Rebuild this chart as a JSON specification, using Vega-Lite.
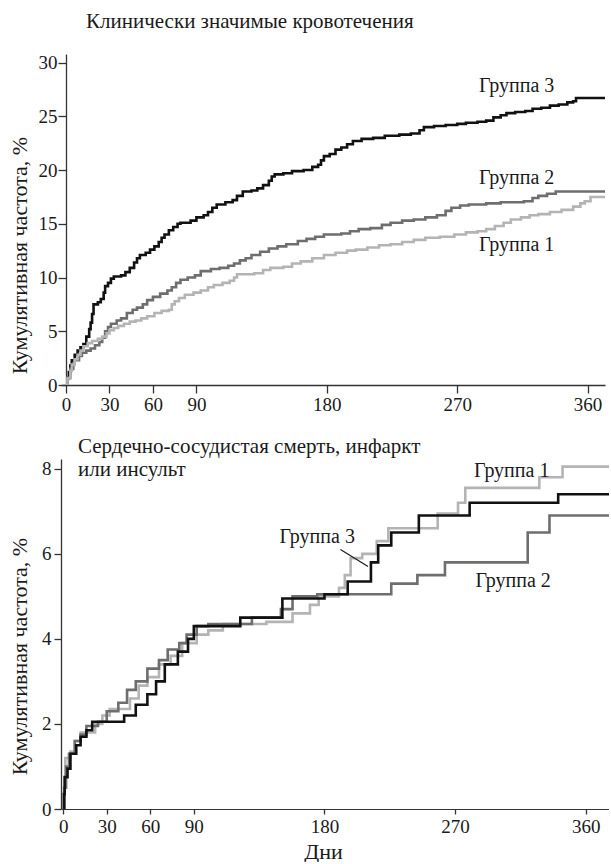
{
  "$schema": "https://vega.github.io/schema/vega-lite/v6.json",
  "background": "white",
  "padding": {"left": 8, "top": 10, "right": 0, "bottom": 0},
  "spacing": 22,
  "config": {
    "font": "'Liberation Serif', 'Times New Roman', 'DejaVu Serif', serif",
    "view": {"stroke": null},
    "axis": {
      "grid": false,
      "domainColor": "#333333",
      "tickColor": "#333333",
      "labelColor": "#1a1a1a",
      "titleColor": "#1a1a1a",
      "labelFont": "'Liberation Serif', 'Times New Roman', 'DejaVu Serif', serif",
      "titleFont": "'Liberation Serif', 'Times New Roman', 'DejaVu Serif', serif",
      "labelFontSize": 19,
      "titleFontSize": 22,
      "titleFontWeight": "normal",
      "domainWidth": 1.3,
      "tickWidth": 1.3
    },
    "title": {"font": "'Liberation Serif', 'Times New Roman', 'DejaVu Serif', serif", "fontWeight": "normal", "color": "#1a1a1a", "fontSize": 21},
    "text": {"font": "'Liberation Serif', 'Times New Roman', 'DejaVu Serif', serif"}
  },
  "datasets": {
    "top": [
      {"g": "Группа 3", "d": 0, "v": 0}, {"g": "Группа 3", "d": 1, "v": 0.6}, {"g": "Группа 3", "d": 2, "v": 1.2}, {"g": "Группа 3", "d": 3, "v": 1.8}, {"g": "Группа 3", "d": 4, "v": 2.3}, {"g": "Группа 3", "d": 6, "v": 2.8}, {"g": "Группа 3", "d": 8, "v": 3.2}, {"g": "Группа 3", "d": 10, "v": 3.5}, {"g": "Группа 3", "d": 12, "v": 3.8}, {"g": "Группа 3", "d": 14, "v": 4.5}, {"g": "Группа 3", "d": 16, "v": 5.2}, {"g": "Группа 3", "d": 17, "v": 5.8}, {"g": "Группа 3", "d": 18, "v": 6.6}, {"g": "Группа 3", "d": 19, "v": 7.5}, {"g": "Группа 3", "d": 22, "v": 7.7}, {"g": "Группа 3", "d": 24, "v": 8.0}, {"g": "Группа 3", "d": 26, "v": 8.6}, {"g": "Группа 3", "d": 27, "v": 9.2}, {"g": "Группа 3", "d": 29, "v": 9.5}, {"g": "Группа 3", "d": 31, "v": 9.9}, {"g": "Группа 3", "d": 33, "v": 10.1}, {"g": "Группа 3", "d": 38, "v": 10.2}, {"g": "Группа 3", "d": 41, "v": 10.5}, {"g": "Группа 3", "d": 44, "v": 10.9}, {"g": "Группа 3", "d": 47, "v": 11.4}, {"g": "Группа 3", "d": 49, "v": 11.8}, {"g": "Группа 3", "d": 51, "v": 12.1}, {"g": "Группа 3", "d": 55, "v": 12.3}, {"g": "Группа 3", "d": 58, "v": 12.6}, {"g": "Группа 3", "d": 61, "v": 12.9}, {"g": "Группа 3", "d": 64, "v": 13.3}, {"g": "Группа 3", "d": 66, "v": 13.7}, {"g": "Группа 3", "d": 68, "v": 14.0}, {"g": "Группа 3", "d": 71, "v": 14.4}, {"g": "Группа 3", "d": 74, "v": 14.7}, {"g": "Группа 3", "d": 77, "v": 15.0}, {"g": "Группа 3", "d": 79, "v": 15.1}, {"g": "Группа 3", "d": 86, "v": 15.3}, {"g": "Группа 3", "d": 90, "v": 15.6}, {"g": "Группа 3", "d": 95, "v": 15.8}, {"g": "Группа 3", "d": 98, "v": 16.1}, {"g": "Группа 3", "d": 101, "v": 16.5}, {"g": "Группа 3", "d": 104, "v": 16.8}, {"g": "Группа 3", "d": 110, "v": 17.0}, {"g": "Группа 3", "d": 115, "v": 17.2}, {"g": "Группа 3", "d": 118, "v": 17.6}, {"g": "Группа 3", "d": 122, "v": 18.0}, {"g": "Группа 3", "d": 128, "v": 18.1}, {"g": "Группа 3", "d": 132, "v": 18.3}, {"g": "Группа 3", "d": 136, "v": 18.6}, {"g": "Группа 3", "d": 140, "v": 19.0}, {"g": "Группа 3", "d": 142, "v": 19.4}, {"g": "Группа 3", "d": 144, "v": 19.6}, {"g": "Группа 3", "d": 150, "v": 19.7}, {"g": "Группа 3", "d": 156, "v": 19.9}, {"g": "Группа 3", "d": 164, "v": 20.0}, {"g": "Группа 3", "d": 170, "v": 20.3}, {"g": "Группа 3", "d": 174, "v": 20.5}, {"g": "Группа 3", "d": 176, "v": 20.9}, {"g": "Группа 3", "d": 178, "v": 21.3}, {"g": "Группа 3", "d": 182, "v": 21.5}, {"g": "Группа 3", "d": 186, "v": 21.9}, {"g": "Группа 3", "d": 190, "v": 22.1}, {"g": "Группа 3", "d": 194, "v": 22.4}, {"g": "Группа 3", "d": 198, "v": 22.7}, {"g": "Группа 3", "d": 204, "v": 22.9}, {"g": "Группа 3", "d": 212, "v": 23.0}, {"g": "Группа 3", "d": 220, "v": 23.2}, {"g": "Группа 3", "d": 230, "v": 23.3}, {"g": "Группа 3", "d": 238, "v": 23.4}, {"g": "Группа 3", "d": 244, "v": 23.7}, {"g": "Группа 3", "d": 247, "v": 24.0}, {"g": "Группа 3", "d": 254, "v": 24.1}, {"g": "Группа 3", "d": 262, "v": 24.2}, {"g": "Группа 3", "d": 270, "v": 24.3}, {"g": "Группа 3", "d": 276, "v": 24.4}, {"g": "Группа 3", "d": 284, "v": 24.5}, {"g": "Группа 3", "d": 290, "v": 24.6}, {"g": "Группа 3", "d": 295, "v": 24.9}, {"g": "Группа 3", "d": 300, "v": 25.1}, {"g": "Группа 3", "d": 304, "v": 25.3}, {"g": "Группа 3", "d": 310, "v": 25.4}, {"g": "Группа 3", "d": 317, "v": 25.5}, {"g": "Группа 3", "d": 322, "v": 25.7}, {"g": "Группа 3", "d": 328, "v": 25.8}, {"g": "Группа 3", "d": 334, "v": 26.0}, {"g": "Группа 3", "d": 340, "v": 26.1}, {"g": "Группа 3", "d": 346, "v": 26.3}, {"g": "Группа 3", "d": 350, "v": 26.4}, {"g": "Группа 3", "d": 352, "v": 26.7}, {"g": "Группа 3", "d": 372, "v": 26.7},
      {"g": "Группа 2", "d": 0, "v": 0}, {"g": "Группа 2", "d": 1, "v": 0.7}, {"g": "Группа 2", "d": 3, "v": 1.5}, {"g": "Группа 2", "d": 5, "v": 2.0}, {"g": "Группа 2", "d": 6, "v": 2.3}, {"g": "Группа 2", "d": 9, "v": 2.7}, {"g": "Группа 2", "d": 11, "v": 3.0}, {"g": "Группа 2", "d": 14, "v": 3.2}, {"g": "Группа 2", "d": 17, "v": 3.4}, {"g": "Группа 2", "d": 20, "v": 3.7}, {"g": "Группа 2", "d": 23, "v": 4.0}, {"g": "Группа 2", "d": 25, "v": 4.4}, {"g": "Группа 2", "d": 27, "v": 5.0}, {"g": "Группа 2", "d": 29, "v": 5.4}, {"g": "Группа 2", "d": 31, "v": 5.7}, {"g": "Группа 2", "d": 35, "v": 6.0}, {"g": "Группа 2", "d": 38, "v": 6.2}, {"g": "Группа 2", "d": 42, "v": 6.7}, {"g": "Группа 2", "d": 46, "v": 7.0}, {"g": "Группа 2", "d": 49, "v": 7.2}, {"g": "Группа 2", "d": 53, "v": 7.5}, {"g": "Группа 2", "d": 56, "v": 7.9}, {"g": "Группа 2", "d": 60, "v": 8.2}, {"g": "Группа 2", "d": 65, "v": 8.5}, {"g": "Группа 2", "d": 70, "v": 8.8}, {"g": "Группа 2", "d": 73, "v": 9.1}, {"g": "Группа 2", "d": 76, "v": 9.5}, {"g": "Группа 2", "d": 79, "v": 9.8}, {"g": "Группа 2", "d": 84, "v": 10.0}, {"g": "Группа 2", "d": 89, "v": 10.2}, {"g": "Группа 2", "d": 93, "v": 10.6}, {"g": "Группа 2", "d": 100, "v": 10.8}, {"g": "Группа 2", "d": 106, "v": 10.9}, {"g": "Группа 2", "d": 112, "v": 11.1}, {"g": "Группа 2", "d": 116, "v": 11.3}, {"g": "Группа 2", "d": 120, "v": 11.6}, {"g": "Группа 2", "d": 124, "v": 11.8}, {"g": "Группа 2", "d": 128, "v": 12.1}, {"g": "Группа 2", "d": 134, "v": 12.4}, {"g": "Группа 2", "d": 140, "v": 12.7}, {"g": "Группа 2", "d": 146, "v": 12.9}, {"g": "Группа 2", "d": 152, "v": 13.1}, {"g": "Группа 2", "d": 160, "v": 13.4}, {"g": "Группа 2", "d": 166, "v": 13.6}, {"g": "Группа 2", "d": 172, "v": 13.8}, {"g": "Группа 2", "d": 178, "v": 14.0}, {"g": "Группа 2", "d": 190, "v": 14.1}, {"g": "Группа 2", "d": 196, "v": 14.3}, {"g": "Группа 2", "d": 202, "v": 14.5}, {"g": "Группа 2", "d": 210, "v": 14.6}, {"g": "Группа 2", "d": 218, "v": 14.9}, {"g": "Группа 2", "d": 224, "v": 15.1}, {"g": "Группа 2", "d": 232, "v": 15.3}, {"g": "Группа 2", "d": 240, "v": 15.4}, {"g": "Группа 2", "d": 248, "v": 15.6}, {"g": "Группа 2", "d": 256, "v": 15.8}, {"g": "Группа 2", "d": 262, "v": 16.2}, {"g": "Группа 2", "d": 266, "v": 16.5}, {"g": "Группа 2", "d": 272, "v": 16.7}, {"g": "Группа 2", "d": 278, "v": 16.8}, {"g": "Группа 2", "d": 290, "v": 16.9}, {"g": "Группа 2", "d": 300, "v": 17.0}, {"g": "Группа 2", "d": 316, "v": 17.1}, {"g": "Группа 2", "d": 322, "v": 17.4}, {"g": "Группа 2", "d": 326, "v": 17.6}, {"g": "Группа 2", "d": 332, "v": 17.8}, {"g": "Группа 2", "d": 338, "v": 18.0}, {"g": "Группа 2", "d": 372, "v": 18.0},
      {"g": "Группа 1", "d": 0, "v": 0}, {"g": "Группа 1", "d": 1, "v": 0.6}, {"g": "Группа 1", "d": 3, "v": 1.3}, {"g": "Группа 1", "d": 4, "v": 1.9}, {"g": "Группа 1", "d": 6, "v": 2.4}, {"g": "Группа 1", "d": 8, "v": 2.8}, {"g": "Группа 1", "d": 10, "v": 3.2}, {"g": "Группа 1", "d": 12, "v": 3.6}, {"g": "Группа 1", "d": 15, "v": 3.9}, {"g": "Группа 1", "d": 18, "v": 4.1}, {"g": "Группа 1", "d": 22, "v": 4.3}, {"g": "Группа 1", "d": 25, "v": 4.5}, {"g": "Группа 1", "d": 28, "v": 4.8}, {"g": "Группа 1", "d": 30, "v": 5.1}, {"g": "Группа 1", "d": 33, "v": 5.3}, {"g": "Группа 1", "d": 36, "v": 5.5}, {"g": "Группа 1", "d": 40, "v": 5.7}, {"g": "Группа 1", "d": 44, "v": 5.9}, {"g": "Группа 1", "d": 48, "v": 6.0}, {"g": "Группа 1", "d": 52, "v": 6.2}, {"g": "Группа 1", "d": 56, "v": 6.4}, {"g": "Группа 1", "d": 61, "v": 6.7}, {"g": "Группа 1", "d": 66, "v": 6.9}, {"g": "Группа 1", "d": 71, "v": 7.0}, {"g": "Группа 1", "d": 73, "v": 7.5}, {"g": "Группа 1", "d": 75, "v": 7.8}, {"g": "Группа 1", "d": 78, "v": 8.1}, {"g": "Группа 1", "d": 82, "v": 8.4}, {"g": "Группа 1", "d": 88, "v": 8.6}, {"g": "Группа 1", "d": 93, "v": 8.8}, {"g": "Группа 1", "d": 98, "v": 9.1}, {"g": "Группа 1", "d": 102, "v": 9.3}, {"g": "Группа 1", "d": 108, "v": 9.5}, {"g": "Группа 1", "d": 113, "v": 9.7}, {"g": "Группа 1", "d": 116, "v": 10.0}, {"g": "Группа 1", "d": 118, "v": 10.3}, {"g": "Группа 1", "d": 130, "v": 10.4}, {"g": "Группа 1", "d": 136, "v": 10.7}, {"g": "Группа 1", "d": 141, "v": 10.9}, {"g": "Группа 1", "d": 150, "v": 11.0}, {"g": "Группа 1", "d": 156, "v": 11.3}, {"g": "Группа 1", "d": 162, "v": 11.5}, {"g": "Группа 1", "d": 170, "v": 11.8}, {"g": "Группа 1", "d": 178, "v": 12.1}, {"g": "Группа 1", "d": 186, "v": 12.3}, {"g": "Группа 1", "d": 194, "v": 12.5}, {"g": "Группа 1", "d": 200, "v": 12.6}, {"g": "Группа 1", "d": 208, "v": 12.8}, {"g": "Группа 1", "d": 216, "v": 13.0}, {"g": "Группа 1", "d": 224, "v": 13.1}, {"g": "Группа 1", "d": 232, "v": 13.3}, {"g": "Группа 1", "d": 240, "v": 13.5}, {"g": "Группа 1", "d": 248, "v": 13.7}, {"g": "Группа 1", "d": 258, "v": 13.8}, {"g": "Группа 1", "d": 268, "v": 14.0}, {"g": "Группа 1", "d": 276, "v": 14.2}, {"g": "Группа 1", "d": 284, "v": 14.3}, {"g": "Группа 1", "d": 290, "v": 14.5}, {"g": "Группа 1", "d": 296, "v": 14.8}, {"g": "Группа 1", "d": 302, "v": 15.1}, {"g": "Группа 1", "d": 307, "v": 15.4}, {"g": "Группа 1", "d": 314, "v": 15.6}, {"g": "Группа 1", "d": 320, "v": 15.8}, {"g": "Группа 1", "d": 326, "v": 15.9}, {"g": "Группа 1", "d": 334, "v": 16.1}, {"g": "Группа 1", "d": 342, "v": 16.3}, {"g": "Группа 1", "d": 350, "v": 16.6}, {"g": "Группа 1", "d": 355, "v": 16.9}, {"g": "Группа 1", "d": 358, "v": 17.1}, {"g": "Группа 1", "d": 362, "v": 17.5}, {"g": "Группа 1", "d": 372, "v": 17.5}
    ],
    "bot": [
      {"g": "Группа 1", "d": 0, "v": 0}, {"g": "Группа 1", "d": 0.5, "v": 0.5}, {"g": "Группа 1", "d": 1.5, "v": 1.2}, {"g": "Группа 1", "d": 5, "v": 1.35}, {"g": "Группа 1", "d": 8, "v": 1.6}, {"g": "Группа 1", "d": 12, "v": 1.8}, {"g": "Группа 1", "d": 22, "v": 2.0}, {"g": "Группа 1", "d": 27, "v": 2.2}, {"g": "Группа 1", "d": 32, "v": 2.35}, {"g": "Группа 1", "d": 46, "v": 2.6}, {"g": "Группа 1", "d": 52, "v": 2.9}, {"g": "Группа 1", "d": 58, "v": 3.1}, {"g": "Группа 1", "d": 66, "v": 3.4}, {"g": "Группа 1", "d": 74, "v": 3.6}, {"g": "Группа 1", "d": 82, "v": 3.9}, {"g": "Группа 1", "d": 92, "v": 4.1}, {"g": "Группа 1", "d": 100, "v": 4.2}, {"g": "Группа 1", "d": 110, "v": 4.35}, {"g": "Группа 1", "d": 140, "v": 4.4}, {"g": "Группа 1", "d": 158, "v": 4.6}, {"g": "Группа 1", "d": 170, "v": 4.8}, {"g": "Группа 1", "d": 176, "v": 5.0}, {"g": "Группа 1", "d": 190, "v": 5.2}, {"g": "Группа 1", "d": 194, "v": 5.5}, {"g": "Группа 1", "d": 198, "v": 5.9}, {"g": "Группа 1", "d": 206, "v": 6.0}, {"g": "Группа 1", "d": 216, "v": 6.3}, {"g": "Группа 1", "d": 224, "v": 6.6}, {"g": "Группа 1", "d": 258, "v": 6.95}, {"g": "Группа 1", "d": 272, "v": 7.2}, {"g": "Группа 1", "d": 277, "v": 7.55}, {"g": "Группа 1", "d": 328, "v": 7.8}, {"g": "Группа 1", "d": 344, "v": 8.05}, {"g": "Группа 1", "d": 376, "v": 8.05},
      {"g": "Группа 2", "d": 0, "v": 0}, {"g": "Группа 2", "d": 1, "v": 0.5}, {"g": "Группа 2", "d": 2, "v": 1.0}, {"g": "Группа 2", "d": 4, "v": 1.3}, {"g": "Группа 2", "d": 8, "v": 1.6}, {"g": "Группа 2", "d": 12, "v": 1.75}, {"g": "Группа 2", "d": 16, "v": 1.95}, {"g": "Группа 2", "d": 24, "v": 2.05}, {"g": "Группа 2", "d": 30, "v": 2.3}, {"g": "Группа 2", "d": 38, "v": 2.5}, {"g": "Группа 2", "d": 44, "v": 2.8}, {"g": "Группа 2", "d": 50, "v": 3.0}, {"g": "Группа 2", "d": 58, "v": 3.3}, {"g": "Группа 2", "d": 66, "v": 3.5}, {"g": "Группа 2", "d": 72, "v": 3.75}, {"g": "Группа 2", "d": 80, "v": 3.9}, {"g": "Группа 2", "d": 85, "v": 4.1}, {"g": "Группа 2", "d": 92, "v": 4.3}, {"g": "Группа 2", "d": 100, "v": 4.35}, {"g": "Группа 2", "d": 130, "v": 4.5}, {"g": "Группа 2", "d": 150, "v": 4.7}, {"g": "Группа 2", "d": 158, "v": 5.0}, {"g": "Группа 2", "d": 175, "v": 5.05}, {"g": "Группа 2", "d": 226, "v": 5.3}, {"g": "Группа 2", "d": 244, "v": 5.5}, {"g": "Группа 2", "d": 263, "v": 5.8}, {"g": "Группа 2", "d": 320, "v": 6.5}, {"g": "Группа 2", "d": 335, "v": 6.9}, {"g": "Группа 2", "d": 376, "v": 6.9},
      {"g": "Группа 3", "d": 0, "v": 0}, {"g": "Группа 3", "d": 0.5, "v": 0.35}, {"g": "Группа 3", "d": 1, "v": 0.75}, {"g": "Группа 3", "d": 3, "v": 0.95}, {"g": "Группа 3", "d": 5, "v": 1.3}, {"g": "Группа 3", "d": 9, "v": 1.5}, {"g": "Группа 3", "d": 12, "v": 1.7}, {"g": "Группа 3", "d": 16, "v": 1.85}, {"g": "Группа 3", "d": 20, "v": 2.05}, {"g": "Группа 3", "d": 42, "v": 2.2}, {"g": "Группа 3", "d": 50, "v": 2.45}, {"g": "Группа 3", "d": 58, "v": 2.7}, {"g": "Группа 3", "d": 64, "v": 3.0}, {"g": "Группа 3", "d": 70, "v": 3.4}, {"g": "Группа 3", "d": 79, "v": 3.7}, {"g": "Группа 3", "d": 86, "v": 4.0}, {"g": "Группа 3", "d": 90, "v": 4.3}, {"g": "Группа 3", "d": 122, "v": 4.5}, {"g": "Группа 3", "d": 151, "v": 4.95}, {"g": "Группа 3", "d": 180, "v": 5.05}, {"g": "Группа 3", "d": 196, "v": 5.35}, {"g": "Группа 3", "d": 212, "v": 5.8}, {"g": "Группа 3", "d": 217, "v": 6.2}, {"g": "Группа 3", "d": 226, "v": 6.5}, {"g": "Группа 3", "d": 245, "v": 6.9}, {"g": "Группа 3", "d": 280, "v": 7.2}, {"g": "Группа 3", "d": 341, "v": 7.4}, {"g": "Группа 3", "d": 376, "v": 7.4}
    ],
    "toplab": [
      {"t": "Группа 3", "d": 311, "v": 27.8},
      {"t": "Группа 2", "d": 311, "v": 19.3},
      {"t": "Группа 1", "d": 311, "v": 13.0}
    ],
    "botlab": [
      {"t": "Группа 1", "d": 309, "v": 7.95},
      {"t": "Группа 3", "d": 175, "v": 6.4},
      {"t": "Группа 2", "d": 310, "v": 5.35}
    ],
    "leader": [
      {"d": 191, "v": 6.1, "d2": 210, "v2": 5.7}
    ]
  },
  "vconcat": [
    {
      "width": 544,
      "height": 331,
      "title": {"text": "Клинически значимые кровотечения", "anchor": "start", "frame": "group", "dx": 25, "offset": 22},
      "layer": [
        {
          "data": {"name": "top"},
          "mark": {"type": "line", "interpolate": "step-after", "strokeWidth": 2.6, "clip": true},
          "encoding": {
            "x": {"field": "d", "type": "quantitative", "scale": {"domain": [-3.45, 372], "nice": false, "zero": false},
                  "axis": {"values": [0, 30, 60, 90, 180, 270, 360], "title": null, "tickSize": 8, "labelPadding": 2}},
            "y": {"field": "v", "type": "quantitative", "scale": {"domain": [0, 30.8], "nice": false},
                  "axis": {"values": [0, 5, 10, 15, 20, 25, 30], "title": "Кумулятивная частота, %", "offset": -5, "tickSize": 8, "labelPadding": 1, "titleAngle": -90, "titleX": -40, "titleY": 201, "titleBaseline": "alphabetic", "titleAlign": "center"}},
            "color": {"field": "g", "type": "nominal", "scale": {"domain": ["Группа 1", "Группа 2", "Группа 3"], "range": ["#b4b4b4", "#6e6e6e", "#111111"]}, "legend": null}
          }
        },
        {
          "data": {"name": "toplab"},
          "mark": {"type": "text", "fontSize": 20, "color": "#1a1a1a", "align": "center", "baseline": "middle"},
          "encoding": {
            "x": {"field": "d", "type": "quantitative"},
            "y": {"field": "v", "type": "quantitative"},
            "text": {"field": "t"}
          }
        }
      ]
    },
    {
      "width": 548,
      "height": 350,
      "title": {"text": ["Сердечно-сосудистая смерть, инфаркт", "или инсульт"], "anchor": "start", "frame": "group", "dx": 17, "offset": -21, "lineHeight": 23},
      "layer": [
        {
          "mark": {"type": "rule", "strokeWidth": 3.5, "color": "#4d4d4d"},
          "encoding": {
            "x": {"datum": -18, "type": "quantitative"},
            "x2": {"datum": 363.5},
            "y": {"datum": 0, "type": "quantitative"}
          }
        },
        {
          "data": {"name": "bot"},
          "mark": {"type": "line", "interpolate": "step-after", "strokeWidth": 2.6, "clip": true},
          "encoding": {
            "x": {"field": "d", "type": "quantitative", "scale": {"domain": [-1.5, 376], "nice": false, "zero": false},
                  "axis": {"values": [0, 30, 60, 90, 180, 270, 360], "title": "Дни", "tickSize": 5, "labelPadding": 3, "titleX": 262, "titleY": 49, "titleBaseline": "alphabetic", "titleAlign": "center", "domainWidth": 1}},
            "y": {"field": "v", "type": "quantitative", "scale": {"domain": [0, 8.23], "nice": false},
                  "axis": {"values": [0, 2, 4, 6, 8], "title": "Кумулятивная частота, %", "tickSize": 7, "labelPadding": 3, "titleAngle": -90, "titleX": -35, "titleY": 197, "titleBaseline": "alphabetic", "titleAlign": "center"}},
            "color": {"field": "g", "type": "nominal", "scale": {"domain": ["Группа 1", "Группа 2", "Группа 3"], "range": ["#b4b4b4", "#6e6e6e", "#111111"]}, "legend": null}
          }
        },
        {
          "data": {"name": "leader"},
          "mark": {"type": "rule", "strokeWidth": 1.2, "color": "#1a1a1a"},
          "encoding": {
            "x": {"field": "d", "type": "quantitative"},
            "y": {"field": "v", "type": "quantitative"},
            "x2": {"field": "d2"},
            "y2": {"field": "v2"}
          }
        },
        {
          "data": {"name": "botlab"},
          "mark": {"type": "text", "fontSize": 20, "color": "#1a1a1a", "align": "center", "baseline": "middle"},
          "encoding": {
            "x": {"field": "d", "type": "quantitative"},
            "y": {"field": "v", "type": "quantitative"},
            "text": {"field": "t"}
          }
        }
      ]
    }
  ]
}
